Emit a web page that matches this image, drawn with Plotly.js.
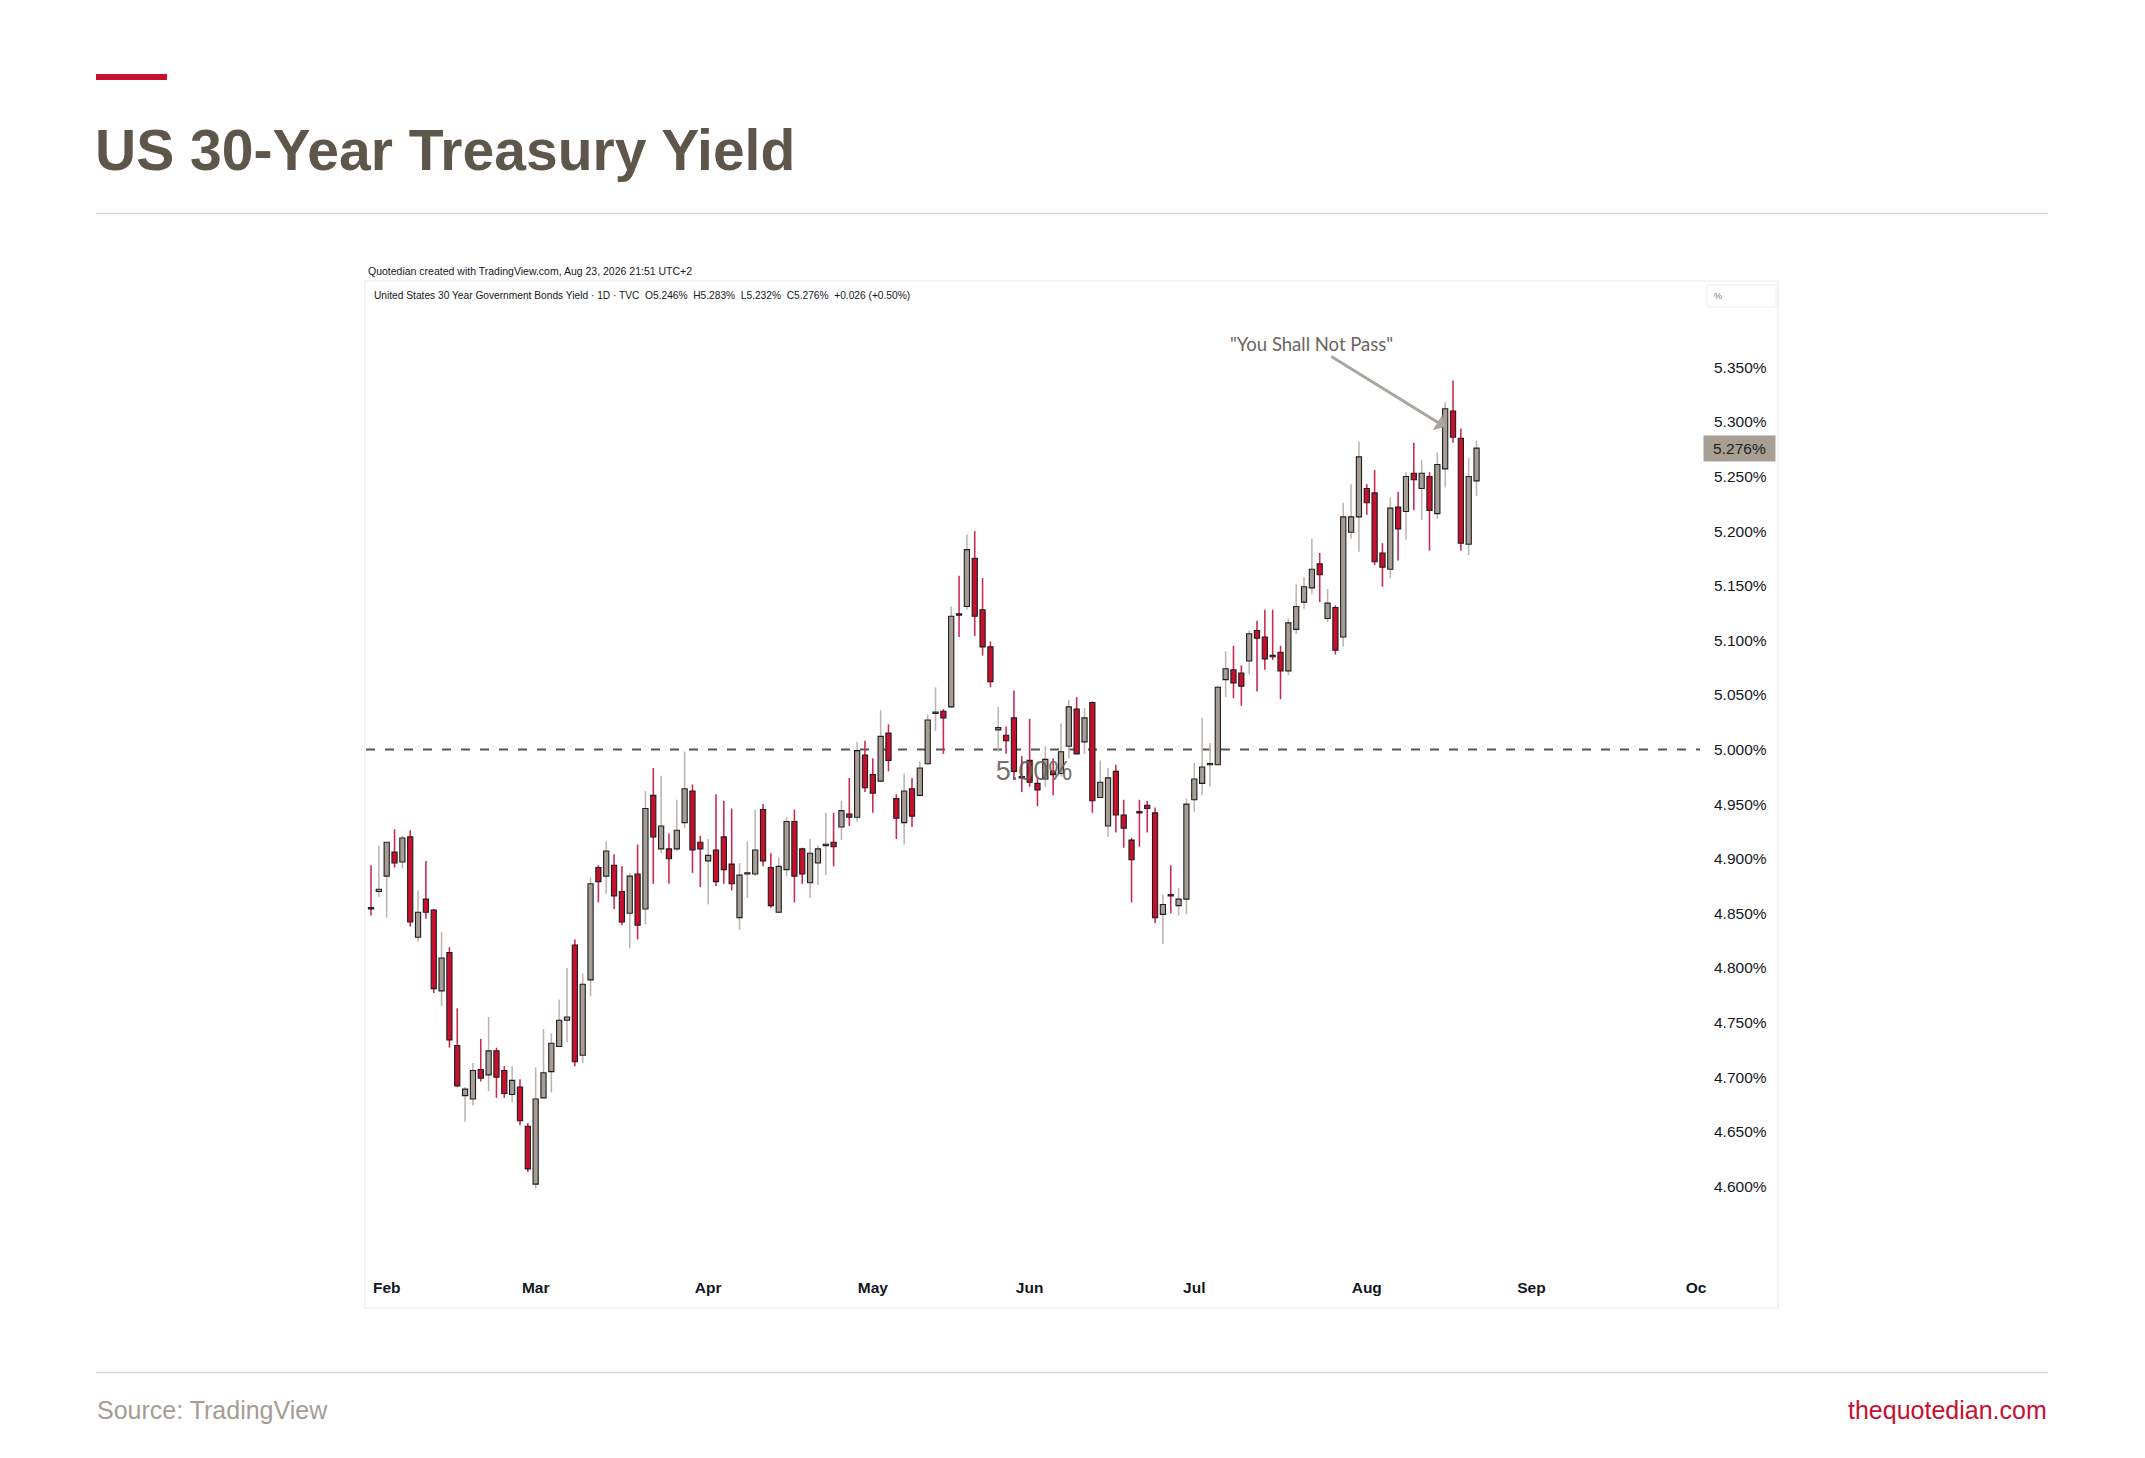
<!DOCTYPE html>
<html>
<head>
<meta charset="utf-8">
<script src="https://cdn.plot.ly/plotly-3.0.1.min.js"></script>
<style>
  html, body { margin: 0; padding: 0; background: #ffffff; }
  #chart { width: 2145px; height: 1458px; }
</style>
</head>
<body>
<div id="chart"></div>
<script>
// ---------------- DATA ----------------
const dates = [
  '2026-01-29','2026-01-30',
  '2026-02-02','2026-02-03','2026-02-04','2026-02-05','2026-02-06',
  '2026-02-09','2026-02-10','2026-02-11','2026-02-12','2026-02-13',
  '2026-02-17','2026-02-18','2026-02-19','2026-02-20',
  '2026-02-23','2026-02-24','2026-02-25','2026-02-26','2026-02-27',
  '2026-03-02','2026-03-03','2026-03-04','2026-03-05','2026-03-06',
  '2026-03-09','2026-03-10','2026-03-11','2026-03-12','2026-03-13',
  '2026-03-16','2026-03-17','2026-03-18','2026-03-19','2026-03-20',
  '2026-03-23','2026-03-24','2026-03-25','2026-03-26','2026-03-27',
  '2026-03-30','2026-03-31',
  '2026-04-01','2026-04-02',
  '2026-04-06','2026-04-07','2026-04-08','2026-04-09','2026-04-10',
  '2026-04-13','2026-04-14','2026-04-15','2026-04-16','2026-04-17',
  '2026-04-20','2026-04-21','2026-04-22','2026-04-23','2026-04-24',
  '2026-04-27','2026-04-28','2026-04-29','2026-04-30',
  '2026-05-01',
  '2026-05-04','2026-05-05','2026-05-06','2026-05-07','2026-05-08',
  '2026-05-11','2026-05-12','2026-05-13','2026-05-14','2026-05-15',
  '2026-05-18','2026-05-19','2026-05-20','2026-05-21','2026-05-22',
  '2026-05-26','2026-05-27','2026-05-28','2026-05-29',
  '2026-06-01','2026-06-02','2026-06-03','2026-06-04','2026-06-05',
  '2026-06-08','2026-06-09','2026-06-10','2026-06-11','2026-06-12',
  '2026-06-15','2026-06-16','2026-06-17','2026-06-18',
  '2026-06-22','2026-06-23','2026-06-24','2026-06-25','2026-06-26',
  '2026-06-29','2026-06-30',
  '2026-07-01','2026-07-02',
  '2026-07-06','2026-07-07','2026-07-08','2026-07-09','2026-07-10',
  '2026-07-13','2026-07-14','2026-07-15','2026-07-16','2026-07-17',
  '2026-07-20','2026-07-21','2026-07-22','2026-07-23','2026-07-24',
  '2026-07-27','2026-07-28','2026-07-29','2026-07-30','2026-07-31',
  '2026-08-03','2026-08-04','2026-08-05','2026-08-06','2026-08-07',
  '2026-08-10','2026-08-11','2026-08-12','2026-08-13','2026-08-14',
  '2026-08-17','2026-08-18','2026-08-19','2026-08-20','2026-08-21'
];

const open = [
  4.855,4.870,
  4.884,4.906,4.897,4.920,4.828, 4.863,4.853,4.779,4.814,4.729, 4.683,4.680,4.707,4.702, 4.724,4.706,4.684,4.691,4.655,
  4.602,4.681,4.705,4.728,4.752, 4.821,4.720,4.789,4.892,4.884, 4.894,4.870,4.850,4.886,4.854, 4.958,4.909,4.909,4.909,4.933, 4.962,4.915,
  4.898,4.908, 4.920,4.895,4.846,4.886,4.886, 4.945,4.892,4.851,4.890,4.934, 4.909,4.878,4.896,4.912,4.915, 4.929,4.941,4.938,4.995,
  4.977, 4.971,5.015,4.955,4.933,4.964, 4.958,4.987,5.033,5.035,5.039, 5.124,5.131,5.175,5.128,5.094, 5.018,5.013,5.029,4.975,
  4.990,4.969,4.973,4.980,4.978, 5.003,5.037,5.007,5.043,4.956, 4.930,4.980,4.940,4.917, 4.943,4.949,4.942,4.849,4.867, 4.857,4.863,
  4.954,4.969, 4.986,4.986,5.064,5.073,5.070, 5.081,5.109,5.103,5.086,5.089, 5.072,5.110,5.135,5.148,5.170, 5.120,5.130,5.103,5.199,5.213,
  5.239,5.235,5.180,5.165,5.222, 5.218,5.253,5.239,5.250,5.216, 5.257,5.310,5.285,5.188,5.246
];

const high = [
  4.894,4.912,
  4.915,4.927,4.921,4.926,4.871, 4.898,4.854,4.833,4.819,4.763, 4.691,4.713,4.735,4.755, 4.727,4.710,4.710,4.698,4.658,
  4.709,4.744,4.740,4.771,4.800, 4.826,4.795,4.883,4.894,4.916, 4.904,4.893,4.887,4.913,4.962, 4.983,4.976,4.923,4.954,4.998, 4.968,4.921,
  4.918,4.959, 4.953,4.946,4.896,4.916,4.945, 4.950,4.905,4.901,4.938,4.945, 4.910,4.918,4.912,4.942,4.942, 4.953,4.974,5.007,5.008,
  4.992, 5.036,5.023,4.959,4.978,4.974, 4.989,5.032,5.057,5.037,5.131, 5.159,5.197,5.200,5.157,5.099, 5.039,5.021,5.054,4.994,
  5.028,4.974,5.003,4.992,5.024, 5.045,5.048,5.038,5.044,4.990, 4.983,4.986,4.954,4.919, 4.954,4.953,4.947,4.867,4.894, 4.873,4.955,
  4.988,5.029, 5.006,5.058,5.090,5.095,5.077, 5.109,5.118,5.128,5.128,5.095, 5.120,5.151,5.158,5.193,5.180, 5.147,5.132,5.226,5.243,5.282,
  5.243,5.256,5.189,5.231,5.236, 5.254,5.281,5.265,5.254,5.272, 5.318,5.338,5.294,5.267,5.283
];

const low = [
  4.848,4.865,
  4.846,4.892,4.891,4.838,4.824, 4.845,4.777,4.765,4.727,4.691, 4.659,4.674,4.696,4.687, 4.681,4.681,4.677,4.656,4.613,
  4.598,4.681,4.686,4.728,4.732, 4.710,4.713,4.774,4.860,4.868, 4.854,4.839,4.818,4.826,4.840, 4.877,4.905,4.877,4.907,4.928, 4.887,4.874,
  4.858,4.875, 4.877,4.871,4.835,4.864,4.884, 4.893,4.855,4.850,4.884,4.860, 4.877,4.864,4.876,4.885,4.893, 4.917,4.930,4.934,4.961,
  4.942, 4.970,4.980,4.918,4.913,4.929, 4.957,4.986,5.017,4.996,5.038, 5.103,5.128,5.104,5.086,5.057, 4.998,4.996,4.972,4.961,
  4.966,4.948,4.966,4.958,4.975, 4.992,4.996,4.996,4.942,4.956, 4.920,4.924,4.910,4.860, 4.911,4.924,4.841,4.822,4.850, 4.848,4.849,
  4.943,4.958, 4.966,4.986,5.048,5.047,5.040, 5.069,5.053,5.073,5.082,5.046, 5.068,5.106,5.129,5.142,5.135, 5.117,5.087,5.094,5.193,5.181,
  5.215,5.169,5.149,5.157,5.173, 5.192,5.219,5.210,5.182,5.211, 5.240,5.281,5.182,5.178,5.232
];

const close = [
  4.854,4.872,
  4.915,4.896,4.919,4.842,4.851, 4.851,4.781,4.809,4.734,4.692, 4.689,4.706,4.699,4.724, 4.700,4.685,4.697,4.660,4.616,
  4.680,4.704,4.731,4.752,4.755, 4.714,4.785,4.877,4.879,4.907, 4.866,4.842,4.884,4.839,4.946, 4.920,4.930,4.900,4.926,4.964, 4.908,4.909,
  4.903,4.879, 4.890,4.877,4.885,4.886,4.908, 4.898,4.857,4.893,4.934,4.884, 4.886,4.905,4.909,4.913,4.911, 4.944,4.938,4.999,4.965,
  4.960, 5.012,4.990,4.937,4.962,4.939, 4.983,5.027,5.033,5.029,5.122, 5.123,5.183,5.122,5.094,5.062, 5.020,5.008,4.980,4.974,
  4.970,4.963,4.991,4.977,4.998, 5.039,4.996,5.029,4.953,4.970, 4.974,4.940,4.928,4.899, 4.942,4.946,4.846,4.858,4.866, 4.863,4.950,
  4.973,4.984, 4.986,5.057,5.074,5.061,5.058, 5.106,5.102,5.083,5.085,5.072, 5.116,5.131,5.149,5.165,5.160, 5.134,5.091,5.213,5.213,5.268,
  5.226,5.172,5.167,5.221,5.202, 5.250,5.247,5.253,5.219,5.261, 5.312,5.286,5.189,5.250,5.276
];

const holidays = ['2026-02-16','2026-04-03','2026-05-25','2026-06-19','2026-07-03','2026-09-07'];
const monthTickDates = ['2026-02-02','2026-03-02','2026-04-01','2026-05-01','2026-06-01','2026-07-01','2026-08-03','2026-09-01','2026-10-01'];
const monthTickLabels = ['Feb','Mar','Apr','May','Jun','Jul','Aug','Sep','Oc'];
const yTickValues = [4.60,4.65,4.70,4.75,4.80,4.85,4.90,4.95,5.00,5.05,5.10,5.15,5.20,5.25,5.30,5.35];
const referenceLevel = 5.00;
const annotationDate = '2026-08-17';
const annotationLevel = 5.2953;

// ---------------- STYLE / LAYOUT ----------------
const W = 2145, H = 1458;
const PL = 366, PR = 1700, PT = 282, PB = 1270;
const px2x = p => (p - PL) / (PR - PL);
const py2y = p => (PB - p) / (PB - PT);

const UP_BODY = '#a69e95', DN_BODY = '#c8102e';
const UP_WICK = '#bcb6af', DN_WICK = '#cc2a50';
const DAY = 86400000;

const xc = dates.map(d => d + ' 12:00');
const isUp = open.map((o, i) => close[i] >= o);
const bodyBase = open.map((o, i) => Math.min(o, close[i]));
const bodyH = open.map((o, i) => Math.max(Math.abs(close[i] - o), 0.0012));
const wickH = high.map((h, i) => h - low[i]);

const refLabel = {
  type: 'scatter', mode: 'text',
  x: ['2026-06-02 01:30'], y: [4.9785],
  text: [referenceLevel.toFixed(2) + '%'],
  textfont: { family: 'Liberation Sans, Arial, sans-serif', size: 27, color: 'rgba(100,94,88,0.9)' },
  textposition: 'middle center', hoverinfo: 'skip', showlegend: false
};

const wicks = {
  type: 'bar', x: xc, base: low, y: wickH,
  width: xc.map(() => 0.2 * DAY),
  marker: { color: isUp.map(u => u ? UP_WICK : DN_WICK), line: { width: 0 } },
  hoverinfo: 'skip', showlegend: false
};

const bodies = {
  type: 'bar', x: xc, base: bodyBase, y: bodyH,
  width: xc.map(() => 0.66 * DAY),
  marker: { color: isUp.map(u => u ? UP_BODY : DN_BODY), line: { color: '#1e1e1e', width: 1.1 } },
  hoverinfo: 'skip', showlegend: false
};

const txt = (text, px, py, size, color, anchor, extra) => Object.assign({
  text: text, xref: 'paper', yref: 'paper', x: px2x(px), y: py2y(py),
  xanchor: anchor || 'left', yanchor: 'middle', showarrow: false,
  font: { family: 'Liberation Sans, Arial, sans-serif', size: size, color: color }
}, extra || {});

const layout = {
  width: W, height: H,
  margin: { l: PL, r: W - PR, t: PT, b: H - PB, pad: 0 },
  paper_bgcolor: '#ffffff', plot_bgcolor: '#ffffff',
  barmode: 'overlay',
  showlegend: false,
  xaxis: {
    type: 'date',
    range: ['2026-01-28 20:40', '2026-10-02 00:00'],
    rangebreaks: [{ bounds: ['sat', 'mon'] }, { values: holidays }],
    showgrid: false, zeroline: false, showline: false,
    tickmode: 'array',
    tickvals: monthTickDates.map(d => d + ' 12:00'),
    ticktext: monthTickLabels,
    ticks: '', ticklabelstandoff: 6,
    tickfont: { family: 'Liberation Sans, Arial, sans-serif', size: 15.5, color: '#131722', weight: 700 },
    fixedrange: true
  },
  yaxis: {
    side: 'right',
    range: [5 - (PB - 749.5) / 1092, 5 + (749.5 - PT) / 1092],
    showgrid: false, zeroline: false, showline: false,
    tickmode: 'array', tickvals: yTickValues,
    ticktext: yTickValues.map(v => v.toFixed(3) + '%'),
    ticks: '', ticklabelstandoff: 13,
    tickfont: { family: 'Liberation Sans, Arial, sans-serif', size: 15.5, color: '#131722' },
    fixedrange: true
  },
  shapes: [
    { type: 'rect', xref: 'paper', yref: 'paper', x0: px2x(96), x1: px2x(167), y0: py2y(74), y1: py2y(80),
      fillcolor: '#c8102e', line: { width: 0 } },
    { type: 'line', xref: 'paper', yref: 'paper', x0: px2x(96), x1: px2x(2048), y0: py2y(213.5), y1: py2y(213.5),
      line: { color: '#d6d6d6', width: 1.5 } },
    { type: 'line', xref: 'paper', yref: 'paper', x0: px2x(96), x1: px2x(2048), y0: py2y(1372.5), y1: py2y(1372.5),
      line: { color: '#d6d6d6', width: 1.5 } },
    { type: 'rect', xref: 'paper', yref: 'paper', x0: px2x(365), x1: px2x(1778), y0: py2y(281), y1: py2y(1308),
      line: { color: '#ececec', width: 1.2 }, fillcolor: 'rgba(0,0,0,0)', layer: 'below' },
    { type: 'rect', xref: 'paper', yref: 'paper', x0: px2x(1707), x1: px2x(1776), y0: py2y(285), y1: py2y(307),
      line: { color: '#eeeeee', width: 1 }, fillcolor: 'rgba(0,0,0,0)' },
    { type: 'line', xref: 'paper', yref: 'y', x0: 0, x1: 1, y0: referenceLevel, y1: referenceLevel,
      line: { color: '#5a5550', width: 2, dash: '9px,10px' }, layer: 'below' }
  ],
  annotations: [
    txt('US 30-Year Treasury Yield', 93, 150, 57, '#5e554b', 'left',
        { font: { family: 'Liberation Sans, Arial, sans-serif', size: 57, color: '#5e554b', weight: 700 } }),
    txt('Source: TradingView', 95, 1410, 25, '#a59d94', 'left'),
    txt('thequotedian.com', 2049, 1410, 25, '#c8102e', 'right'),
    txt('Quotedian created with TradingView.com, Aug 23, 2026 21:51 UTC+2', 366, 271, 10.5, '#131722', 'left'),
    txt('United States 30 Year Government Bonds Yield · 1D · TVC  O' + open[open.length-1].toFixed(3) + '%  H' +
        high[high.length-1].toFixed(3) + '%  L' + low[low.length-1].toFixed(3) + '%  C' + close[close.length-1].toFixed(3) +
        '%  +0.026 (+0.50%)', 372, 295, 10.2, '#131722', 'left'),
    txt('%', 1712, 296, 9, '#777777', 'left'),
    { text: close[close.length-1].toFixed(3) + '%', xref: 'paper', yref: 'y', x: px2x(1703), y: close[close.length-1],
      xanchor: 'left', yanchor: 'middle', showarrow: false, bgcolor: '#a89f94', width: 71, height: 25, borderpad: 0,
      font: { family: 'Liberation Sans, Arial, sans-serif', size: 15.5, color: '#1e1e1e' } },
    { text: '"You Shall Not Pass"', x: annotationDate + ' 12:00', y: annotationLevel, xref: 'x', yref: 'y',
      showarrow: true, ax: -134, ay: -83, axref: 'pixel', ayref: 'pixel',
      arrowcolor: '#aaa59f', arrowwidth: 3, arrowhead: 1, arrowsize: 1,
      font: { family: 'Lato, Liberation Sans, sans-serif', size: 18.5, color: '#6b655f' } }
  ]
};

Plotly.newPlot('chart', [refLabel, wicks, bodies], layout, { displayModeBar: false, staticPlot: true });
</script>
</body>
</html>
